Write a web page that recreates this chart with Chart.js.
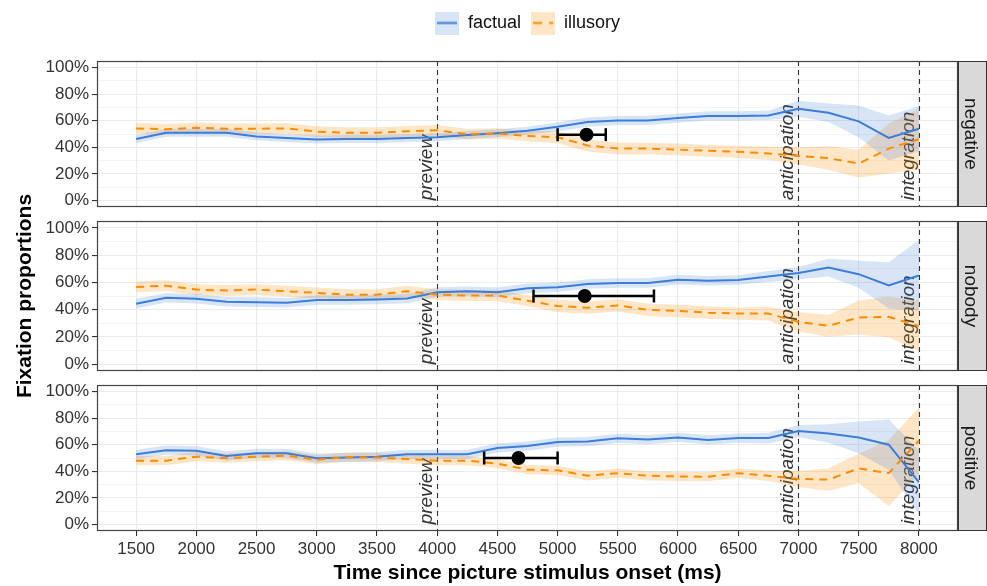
<!DOCTYPE html>
<html><head><meta charset="utf-8">
<script src="https://cdn.jsdelivr.net/npm/chart.js@4.4.1/dist/chart.umd.min.js"></script>
<style>
html,body{margin:0;padding:0;background:#fff;}
#wrap{position:relative;width:987px;height:586px;overflow:hidden;}
.c{position:absolute;left:0;width:987px;}
</style></head><body>
<div id="wrap">
<div class="c" style="top:0;height:216px;z-index:1"><canvas id="cA"></canvas></div>
<div class="c" style="top:376px;height:210px;z-index:1"><canvas id="cC"></canvas></div>
<div class="c" style="top:0;height:586px;z-index:2"><canvas id="cB"></canvas></div>
</div>
<script>
// ---------- data ----------
const times = [1500,1750,2000,2250,2500,2750,3000,3250,3500,3750,4000,4250,4500,4750,5000,5250,5500,5750,6000,6250,6500,6750,7000,7250,7500,7750,8000];
const panels = ['negative','nobody','positive'];
const seriesNames = ['factual','illusory'];
const xTicks = [1500,2000,2500,3000,3500,4000,4500,5000,5500,6000,6500,7000,7500,8000];
const yTicks = [0,20,40,60,80,100];
const yMinorTicks = [10,30,50,70,90];
const markerTimes = [4000,7000,8000];
const markerLabels = ['preview','anticipation','integration'];
const xTitle = 'Time since picture stimulus onset (ms)';
const yTitle = 'Fixation proportions';

const factualNegative = [46.3,51,51,51,48.2,47,45.8,46.3,46.3,47,47.5,49.2,50.6,52.5,55.4,59,60.2,60.2,62,63.6,63.6,64,69,66,59.5,47,54];
const illusoryNegative = [54.2,53.5,54.7,54,54,54.2,51.8,51,51,52,52.8,49.9,50.4,48.5,47.5,41.4,39,39,38.3,37.3,36.6,35.4,33.5,31.8,27.7,39,46];
const factualNobody = [44.3,48.7,48,45.8,45.5,45,47,47,47.5,48.2,52.8,53.5,52.8,55.6,56.4,58.8,59.5,59.5,62,61.2,61.7,64.3,66.8,70.8,66,57.8,65];
const illusoryNobody = [56.6,57.6,54.7,54,54.7,53.5,52.3,51,51,53.5,51,50.4,50.4,46.5,42.7,41.4,43.1,39.8,39,37.8,37.1,37.1,31,28.2,34.2,34.7,28];
const factualPositive = [52.8,55.9,55.4,51.6,53.5,53.5,49.9,50.4,51,52.8,52.8,52.8,57.6,59,62,62.4,64.8,63.9,65.5,63.6,65,65,70.4,68.4,65.5,60,31.8];
const illusoryPositive = [48,48,51,49.9,51,51.8,48.7,50.6,50.4,49.2,48,48,45.8,41.2,40.7,36.6,38.6,36.6,36.1,35.9,38.6,36.6,34.2,33.7,42.2,38.6,63];

// ribbon half-widths (confidence band)
const ciFactualNegative = [3,3,3,3,3,3,3,3,3,3,3,3,3,3,3.5,3.5,3.5,3.5,3.5,3.5,3.5,3.5,6,7,12,17,17];
const ciIllusoryNegative = [4,4,4,4,4,4,4,4,4,4,4,4,4,4,4.5,4.5,4.5,4.5,4.5,4.5,4.5,5,6.5,9,10.5,19,23];
const ciFactualNobody = [3.5,3.5,3.5,3.5,3.5,3.5,3.5,3.5,3.5,3.5,3.5,3.5,3.5,3.5,3.5,3.5,3.5,3.5,3.5,3.5,3.5,4,4.5,6.5,10,17,26];
const ciIllusoryNobody = [4,4,4,4,4,4,4,4,4,4,4,4,4,4,4.5,4.5,4.5,4.5,4.5,4.5,4.5,5,7,8,12.5,15,18.5];
const ciFactualPositive = [3.5,3.5,3.5,3.5,3.5,3.5,3.5,3.5,3.5,3.5,3.5,3.5,3.5,3.5,3.5,3.5,3.5,3.5,3.5,3.5,3.5,4,4.5,7,12,19,24];
const ciIllusoryPositive = [3.5,3.5,3.5,3.5,3.5,3.5,3.5,3.5,3.5,3.5,3.5,3.5,3.5,3.5,3.5,3.5,3.5,3.5,3.5,3.5,3.5,4,6,8.5,11,25,25];

// error bars (mean and range), one per panel
const errMean = [5240,5225,4675];
const errLow = [5000,4800,4390];
const errHigh = [5400,5800,5000];
const errY = [49.5,50,50];

// ---------- grouping ----------
const factualByPanel = [factualNegative, factualNobody, factualPositive];
const illusoryByPanel = [illusoryNegative, illusoryNobody, illusoryPositive];
const ciFactualByPanel = [ciFactualNegative, ciFactualNobody, ciFactualPositive];
const ciIllusoryByPanel = [ciIllusoryNegative, ciIllusoryNobody, ciIllusoryPositive];

const FONT = '"Liberation Sans", Arial, Helvetica, sans-serif';
Chart.defaults.font.family = FONT;
Chart.defaults.animation = false;

const BLUE = '#3B7DD8', ORANGE = '#FF8C00';
const BLUE_FILL = 'rgba(59,125,216,0.2)', ORANGE_FILL = 'rgba(255,140,0,0.22)';
const AXIS_TEXT = '#333333';

function keyImage(color, fill, dash) {
  const c = document.createElement('canvas'); c.width = 24; c.height = 23;
  const g = c.getContext('2d');
  g.fillStyle = fill; g.fillRect(0, 0, 24, 23);
  g.strokeStyle = color; g.lineWidth = 2; g.setLineDash(dash);
  g.beginPath(); g.moveTo(2, 11.5); g.lineTo(22, 11.5); g.stroke();
  return c;
}
const keyBlue = keyImage(BLUE, BLUE_FILL, []);
const keyOrange = keyImage(ORANGE, ORANGE_FILL, [9, 7]);

const panelDecor = {
  id: 'panelDecor',
  beforeDraw(chart) {
    const s = chart.scales.strip, a = chart.chartArea, ctx = chart.ctx;
    ctx.save();
    ctx.fillStyle = '#D9D9D9';
    ctx.fillRect(s.left, a.top, s.right - s.left, a.bottom - a.top);
    ctx.strokeStyle = '#333'; ctx.lineWidth = 1;
    ctx.strokeRect(s.left + 0.5, a.top + 0.5, s.right - s.left - 1, a.bottom - a.top - 1);
    ctx.restore();
  },
  beforeDatasetsDraw(chart) {
    const xs = chart.scales.x, ys = chart.scales.y, a = chart.chartArea, ctx = chart.ctx;
    ctx.save();
    markerTimes.forEach((t, i) => {
      const px = Math.round(xs.getPixelForValue(t)) + 0.5;
      ctx.strokeStyle = '#333'; ctx.lineWidth = 1.1; ctx.setLineDash([5, 4]);
      ctx.beginPath(); ctx.moveTo(px, a.top); ctx.lineTo(px, a.bottom); ctx.stroke();
      ctx.save();
      ctx.translate(px - 1, ys.getPixelForValue(0));
      ctx.rotate(-Math.PI / 2);
      ctx.font = 'italic 19px ' + FONT;
      ctx.fillStyle = '#333';
      ctx.textAlign = 'left'; ctx.textBaseline = 'bottom';
      ctx.fillText(markerLabels[i], 0, 0);
      ctx.restore();
    });
    ctx.restore();
  },
  afterDraw(chart) {
    const a = chart.chartArea, ctx = chart.ctx;
    ctx.save();
    ctx.strokeStyle = '#444'; ctx.lineWidth = 1.2;
    ctx.strokeRect(a.left + 0.5, a.top + 0.5, a.right - a.left - 1, a.bottom - a.top - 1);
    ctx.restore();
  }
};

const legendSpacer = {
  id: 'legendSpacer',
  beforeInit(chart) {
    const lg = chart.legend;
    if (!lg) return;
    const orig = lg.fit;
    lg.fit = function () { orig.call(this); this.height = 57; };
  }
};

// layout padding per panel: [top, bottom]
const panelPadding = [[4, 5], [221, 215], [5, 0]];

function makeChart(canvasId, idx) {
  const isTop = idx === 0, isBottom = idx === 2;
  const fac = factualByPanel[idx], ill = illusoryByPanel[idx];
  const cf = ciFactualByPanel[idx], ci = ciIllusoryByPanel[idx];
  const pts = (f) => times.map((t, i) => ({ x: t, y: f(i) }));
  const ribbonBase = { borderWidth: 0, pointRadius: 0, tension: 0, order: 10 };
  const datasets = [
    Object.assign({ label: 'fLow', data: pts(i => fac[i] - cf[i]), fill: false }, ribbonBase),
    Object.assign({ label: 'fHigh', data: pts(i => fac[i] + cf[i]), fill: '-1', backgroundColor: BLUE_FILL }, ribbonBase),
    Object.assign({ label: 'iLow', data: pts(i => ill[i] - ci[i]), fill: false }, ribbonBase),
    Object.assign({ label: 'iHigh', data: pts(i => ill[i] + ci[i]), fill: '-1', backgroundColor: ORANGE_FILL }, ribbonBase),
    { label: seriesNames[0], data: pts(i => fac[i]), borderColor: BLUE, borderWidth: 2, pointRadius: 0, tension: 0, fill: false, order: 5 },
    { label: seriesNames[1], data: pts(i => ill[i]), borderColor: ORANGE, borderWidth: 2, borderDash: [8, 6], pointRadius: 0, tension: 0, fill: false, order: 4 },
    { label: 'range', data: [{ x: errLow[idx], y: errY[idx] }, { x: errHigh[idx], y: errY[idx] }],
      borderColor: '#000', borderWidth: 2.5, pointStyle: 'line', pointRotation: 90, pointRadius: 6.5,
      pointBorderWidth: 2.5, pointBorderColor: '#000', fill: false, order: 1 },
    { label: 'mean', data: [{ x: errMean[idx], y: errY[idx] }], showLine: false,
      pointRadius: 7, pointBackgroundColor: '#000', pointBorderColor: '#000', pointBorderWidth: 0, order: 0 }
  ];
  return new Chart(document.getElementById(canvasId), {
    type: 'line',
    data: { datasets },
    plugins: isTop ? [panelDecor, legendSpacer] : [panelDecor],
    options: {
      responsive: true, maintainAspectRatio: false, events: [],
      layout: { padding: { top: panelPadding[idx][0], bottom: panelPadding[idx][1], left: 0, right: 0 } },
      plugins: {
        tooltip: { enabled: false },
        legend: {
          display: isTop, position: 'top', align: 'center', fullSize: false,
          labels: {
            usePointStyle: true, pointStyleWidth: 24, padding: 10,
            font: { size: 18 }, color: '#000',
            generateLabels: () => [
              { text: seriesNames[0], pointStyle: keyBlue, fillStyle: BLUE_FILL, strokeStyle: 'rgba(0,0,0,0)', lineWidth: 0, hidden: false, datasetIndex: 4, fontColor: '#111' },
              { text: seriesNames[1], pointStyle: keyOrange, fillStyle: ORANGE_FILL, strokeStyle: 'rgba(0,0,0,0)', lineWidth: 0, hidden: false, datasetIndex: 5, fontColor: '#111' }
            ]
          }
        }
      },
      scales: {
        x: {
          type: 'linear', min: 1175, max: 8325,
          afterBuildTicks: s => { s.ticks = xTicks.map(v => ({ value: v })); },
          ticks: { display: isBottom, font: { size: 17 }, color: AXIS_TEXT, padding: 3, maxRotation: 0, autoSkip: false, callback: v => String(v) },
          grid: { color: '#EBEBEB', lineWidth: 1.1, drawTicks: isBottom, tickLength: 5, tickColor: '#333', tickWidth: 1.1 },
          border: { display: false },
          title: { display: isBottom, text: xTitle, font: { size: 21, weight: 'bold' }, color: '#000', padding: { top: 0, bottom: 0 } },
          afterFit: s => { s.height = isBottom ? 55 : 0; s.paddingLeft = 0; s.paddingRight = 0; }
        },
        y: {
          type: 'linear', min: -5, max: 105,
          afterBuildTicks: s => { s.ticks = yTicks.concat(yMinorTicks).sort((a, b) => a - b).map(v => ({ value: v })); },
          ticks: { font: { size: 17 }, color: AXIS_TEXT, padding: 3, autoSkip: false, callback: v => yTicks.includes(v) ? v + '%' : '' },
          grid: {
            color: '#EBEBEB',
            lineWidth: c => (c.tick && yTicks.includes(c.tick.value)) ? 1.1 : 0.55,
            tickLength: 5,
            tickColor: c => (c.tick && yTicks.includes(c.tick.value)) ? '#333' : 'rgba(0,0,0,0)',
            tickWidth: 1.1
          },
          border: { display: false },
          title: { display: idx === 1, text: yTitle, font: { size: 21, weight: 'bold' }, color: '#000', padding: { top: 13, bottom: 0 } },
          afterFit: s => { s.width = 97; s.paddingTop = 0; s.paddingBottom = 0; }
        },
        strip: {
          type: 'linear', position: 'right', min: 0, max: 1,
          ticks: { display: false }, grid: { display: false, drawTicks: false }, border: { display: false },
          title: { display: true, text: panels[idx], font: { size: 19 }, color: '#1A1A1A', padding: { top: 5, bottom: 0 } },
          afterFit: s => { s.width = 29; }
        }
      }
    }
  });
}

makeChart('cA', 0);
makeChart('cB', 1);
makeChart('cC', 2);
</script>
</body></html>
